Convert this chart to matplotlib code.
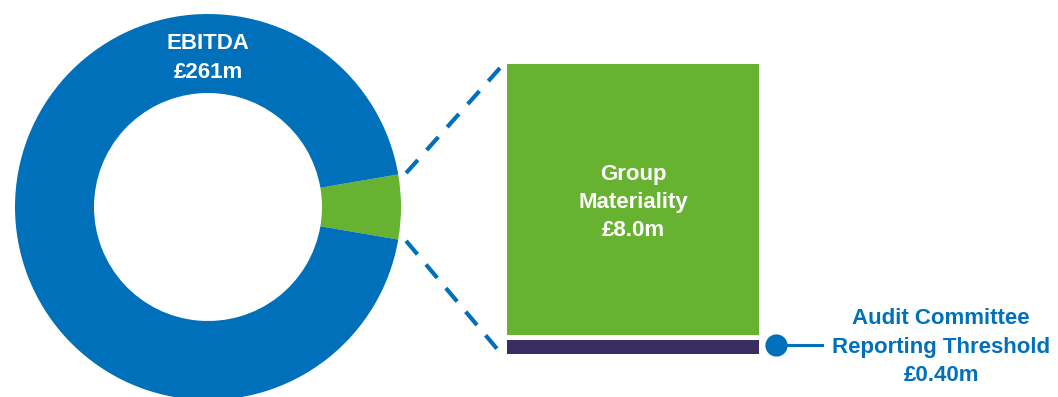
import numpy as np
import matplotlib
matplotlib.use("Agg")
import matplotlib.pyplot as plt

# ---- data ----
ebitda_label = "EBITDA"
ebitda_value = 261          # £m
materiality_label = "Group\nMateriality"
materiality_value = 8.0     # £m
threshold_label = "Audit Committee\nReporting Threshold"
threshold_value = 0.40      # £m
# share of the ring drawn for each slice (%)
donut_shares = [5.4, 94.6]  # materiality slice, EBITDA slice

BLUE = "#0070BA"
GREEN = "#67B231"
PURPLE = "#3A2D62"

plt.rcParams['font.family'] = ['Liberation Sans', 'DejaVu Sans']
FS = 16
LS = 1.45

W, H = 1058, 397
fig = plt.figure(figsize=(W / 100, H / 100), dpi=100)
ax = fig.add_axes([0, 0, 1, 1])

# donut (pixel coordinates on the base axes)
cx, cy, R, ring = 208, 207, 193, 79
start = -donut_shares[0] / 100 * 360 / 2
ax.pie(donut_shares, colors=[GREEN, BLUE], startangle=start, counterclock=True,
       center=(cx, cy), radius=R, wedgeprops=dict(width=ring, linewidth=0))
ax.set_xlim(0, W)
ax.set_ylim(H, 0)
ax.set_aspect('equal')
ax.axis('off')

ax.text(cx, 58, f"{ebitda_label}\n£{ebitda_value:g}m", color='white', fontsize=FS,
        fontweight='bold', ha='center', va='center', linespacing=LS)

# bars (inset axes in £m units)
bx0, bx1, by_top, by_bot = 507, 759, 64, 354
ax2 = fig.add_axes([bx0 / W, (H - by_bot) / H, (bx1 - bx0) / W, (by_bot - by_top) / H])
gap = 0.15
ax2.bar(0, threshold_value, width=1, color=PURPLE, linewidth=0)
ax2.bar(0, materiality_value, bottom=threshold_value + gap, width=1, color=GREEN, linewidth=0)
ax2.set_xlim(-0.5, 0.5)
ax2.set_ylim(0, threshold_value + gap + materiality_value)
ax2.axis('off')
ax2.text(0, threshold_value + gap + materiality_value * 0.49,
         f"{materiality_label}\n£{materiality_value:.1f}m", color='white',
         fontsize=FS, fontweight='bold', ha='center', va='center', linespacing=LS)

# dashed connectors from wedge edges to bar corners
half = np.deg2rad(donut_shares[0] / 100 * 360 / 2)
r0 = R + 8
for sgn, (ex, ey) in [(-1, (bx0 - 7, by_top + 4)), (1, (bx0 - 9, by_bot - 4))]:
    sx = cx + r0 * np.cos(half)
    sy = cy + sgn * r0 * np.sin(half)
    ax.plot([sx, ex], [sy, ey], color=BLUE, linewidth=3, linestyle=(0, (4.2, 3.2)),
            solid_capstyle='butt', dash_capstyle='butt')

# threshold callout
ly = 345
ax.plot([776, 822], [ly, ly], color=BLUE, linewidth=2.2)
ax.plot([776], [ly], marker='o', markersize=16, color=BLUE, markeredgewidth=0)
ax.text(941, 347, f"{threshold_label}\n£{threshold_value:.2f}m", color=BLUE,
        fontsize=FS, fontweight='bold', ha='center', va='center', linespacing=LS)

fig.savefig("out.png", dpi=100)
